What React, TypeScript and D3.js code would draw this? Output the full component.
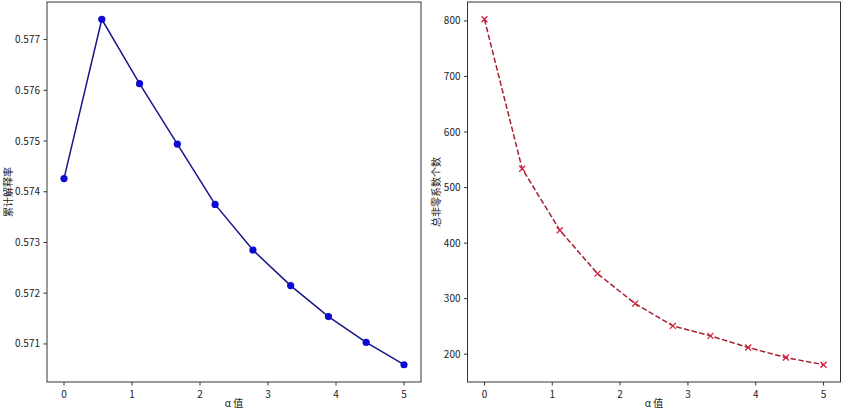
import React from 'react';
import * as d3 from 'd3';

// alpha values (x) shared by both panels
const alphas = [0, 0.556, 1.111, 1.667, 2.222, 2.778, 3.333, 3.889, 4.444, 5];
// cumulative explained ratio
const explained = [0.57426, 0.57740, 0.57613, 0.57494, 0.57375, 0.57285, 0.57215, 0.57154, 0.57103, 0.57059];
// total non-zero coefficients
const nonZero = [803, 534, 423, 345, 291, 251, 233, 212, 194, 181];

const xTicks = [0, 1, 2, 3, 4, 5];
const leftYTicks = [0.571, 0.572, 0.573, 0.574, 0.575, 0.576, 0.577];
const rightYTicks = [200, 300, 400, 500, 600, 700, 800];

const W = 844;
const H = 413;
const FONT = '"Noto Sans CJK SC", "DejaVu Sans", sans-serif';

// matplotlib style 5% margins
const padded = (vals: number[]): [number, number] => {
    const [lo, hi] = d3.extent(vals) as [number, number];
    const m = (hi - lo) * 0.05;
    return [lo - m, hi + m];
};

interface PanelProps {
    left: number;
    right: number;
    values: number[];
    yTicks: number[];
    yFormat: (v: number) => string;
    yLabel: string;
    yLabelX: number;
    kind: 'dot' | 'cross';
}

const Panel: React.FC<PanelProps> = ({ left, right, values, yTicks, yFormat, yLabel, yLabelX, kind }) => {
    const top = 2;
    const bottom = 382;
    const x = d3.scaleLinear().domain(padded(alphas)).range([left, right]);
    const y = d3.scaleLinear().domain(padded(values)).range([bottom, top]);
    const pts = alphas.map((a, i) => [x(a), y(values[i])] as [number, number]);
    const path = d3.line()(pts) || '';
    const axisColor = '#333';

    return (
        <g fontFamily={FONT}>
            {kind === 'dot' ? (
                <path d={path} fill="none" stroke="#16168a" strokeWidth={1.5} />
            ) : (
                <path d={path} fill="none" stroke="#a3202c" strokeWidth={1.5} strokeDasharray="5.5,2.4" />
            )}
            {pts.map(([px, py], i) =>
                kind === 'dot' ? (
                    <circle key={i} cx={px} cy={py} r={3.6} fill="#0a0ad2" />
                ) : (
                    <path key={i} d={`M${px - 3},${py - 3}L${px + 3},${py + 3}M${px - 3},${py + 3}L${px + 3},${py - 3}`}
                        stroke="#d42040" strokeWidth={1.3} fill="none" />
                )
            )}
            <rect x={left} y={top} width={right - left} height={bottom - top} fill="none" stroke={axisColor} strokeWidth={1} />
            {xTicks.map(t => (
                <g key={t} transform={`translate(${x(t)},${bottom})`}>
                    <line y2={3.5} stroke={axisColor} />
                    <text y={16} textAnchor="middle" fontSize={10} fill="#222">{t}</text>
                </g>
            ))}
            {yTicks.map(t => (
                <g key={t} transform={`translate(${left},${y(t)})`}>
                    <line x2={-3.5} stroke={axisColor} />
                    <text x={-7} dy="0.35em" textAnchor="end" fontSize={10} fill="#222">{yFormat(t)}</text>
                </g>
            ))}
            <text x={(left + right) / 2} y={407} textAnchor="middle" fontSize={10} fill="#222">α 值</text>
            <text transform={`translate(${yLabelX},${(top + bottom) / 2}) rotate(-90)`} textAnchor="middle"
                fontSize={10} fill="#222">{yLabel}</text>
        </g>
    );
};

export default function App() {
    return (
        <svg width={W} height={H} style={{ position: 'absolute', left: 0, top: 0, background: '#fff' }}>
            <rect width={W} height={H} fill="#fff" />
            <Panel left={47} right={421} values={explained} yTicks={leftYTicks}
                yFormat={d3.format('.3f')} yLabel="累计解释率" yLabelX={12} kind="dot" />
            <Panel left={467.5} right={840.5} values={nonZero} yTicks={rightYTicks}
                yFormat={d3.format('d')} yLabel="总非零系数个数" yLabelX={440} kind="cross" />
        </svg>
    );
}
